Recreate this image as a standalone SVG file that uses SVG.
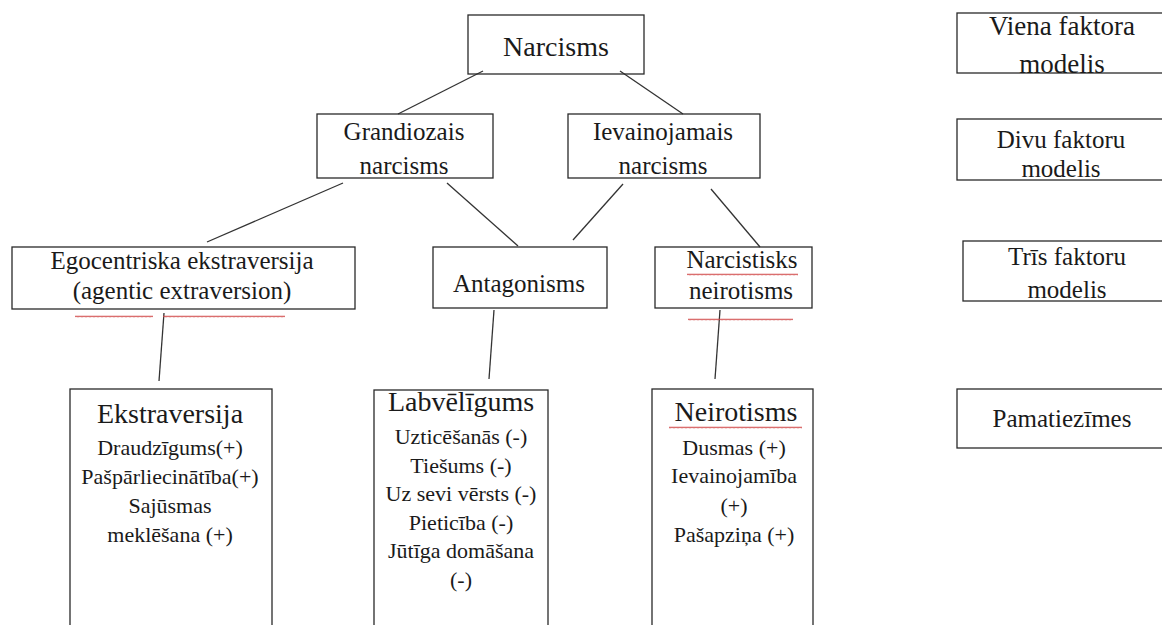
<svg xmlns="http://www.w3.org/2000/svg" width="1162" height="625" viewBox="0 0 1162 625">
<defs>
<style>
.box{fill:none;stroke:#2a2a2a;stroke-width:1.3}
text{font-family:'Liberation Serif','DejaVu Serif','Times New Roman',serif;fill:#1a1a1a;text-anchor:middle}
.s25{font-size:25px}
.s28{font-size:28px}
.s22{font-size:22px}
.s27{font-size:27px}
.con line{stroke:#333;stroke-width:1.3}
</style>
<pattern id="wave" patternUnits="userSpaceOnUse" x="0" y="0" width="4" height="3">
<path d="M0 2.3 L1 0.7 L2 2.3 L3 0.7 L4 2.3" fill="none" stroke="#d04848" stroke-width="0.8"/>
</pattern>
</defs>
<rect width="1162" height="625" fill="#ffffff"/>
<g class="con">
<line x1="483" y1="71" x2="398" y2="114"/>
<line x1="620" y1="71" x2="683" y2="114"/>
<line x1="343" y1="183" x2="207" y2="242"/>
<line x1="447" y1="183" x2="518" y2="246"/>
<line x1="623" y1="184" x2="573" y2="240"/>
<line x1="711" y1="189" x2="760" y2="247"/>
<line x1="164" y1="313" x2="159" y2="381"/>
<line x1="494" y1="310" x2="489" y2="379"/>
<line x1="720" y1="310" x2="715" y2="379"/>
</g>
<g id="narcisms" font-family="Liberation Serif, DejaVu Serif, serif">
<rect class="box" x="468" y="15" width="176" height="59"/>
<text class="s28" x="556" y="56">Narcisms</text>
</g>
<g id="grandiozais" font-family="Liberation Serif, DejaVu Serif, serif">
<rect class="box" x="317" y="114" width="176" height="64"/>
<text class="s25" x="404" y="140">Grandiozais</text>
<text class="s25" x="404" y="174">narcisms</text>
</g>
<g id="ievainojamais" font-family="Liberation Serif, DejaVu Serif, serif">
<rect class="box" x="568" y="114" width="192" height="64"/>
<text class="s25" x="663" y="140">Ievainojamais</text>
<text class="s25" x="663" y="174">narcisms</text>
</g>
<g id="egocentriska" font-family="Liberation Serif, DejaVu Serif, serif">
<rect class="box" x="12" y="247" width="343" height="62"/>
<text class="s25" x="182" y="269">Egocentriska ekstraversija</text>
<text class="s25" x="182" y="299">(agentic extraversion)</text>
<rect x="75" y="315" width="78" height="3" fill="url(#wave)"/>
<rect x="163" y="315" width="122" height="3" fill="url(#wave)"/>
</g>
<g id="antagonisms" font-family="Liberation Serif, DejaVu Serif, serif">
<rect class="box" x="433" y="247" width="174" height="61"/>
<text class="s25" x="519" y="292">Antagonisms</text>
</g>
<g id="narcistisks" font-family="Liberation Serif, DejaVu Serif, serif">
<rect class="box" x="655" y="247" width="157" height="61"/>
<text class="s25" x="742" y="268">Narcistisks</text>
<text class="s25" x="741" y="299">neirotisms</text>
<rect x="687" y="273" width="111" height="3" fill="url(#wave)"/>
<rect x="688" y="318" width="105" height="3" fill="url(#wave)"/>
</g>
<g id="ekstraversija" font-family="Liberation Serif, DejaVu Serif, serif">
<rect class="box" x="70" y="389" width="202" height="260"/>
<text class="s28" x="170" y="423">Ekstraversija</text>
<text class="s22" x="170" y="455">Draudzīgums(+)</text>
<text class="s22" x="170" y="484">Pašpārliecinātība(+)</text>
<text class="s22" x="170" y="513">Sajūsmas</text>
<text class="s22" x="170" y="542">meklēšana (+)</text>
</g>
<g id="labveligums" font-family="Liberation Serif, DejaVu Serif, serif">
<rect class="box" x="374" y="390" width="174" height="260"/>
<text class="s28" x="461" y="411">Labvēlīgums</text>
<text class="s22" x="461" y="444">Uzticēšanās (-)</text>
<text class="s22" x="461" y="473">Tiešums (-)</text>
<text class="s22" x="461" y="501">Uz sevi vērsts (-)</text>
<text class="s22" x="461" y="530">Pieticība (-)</text>
<text class="s22" x="461" y="558">Jūtīga domāšana</text>
<text class="s22" x="461" y="587">(-)</text>
</g>
<g id="neirotisms" font-family="Liberation Serif, DejaVu Serif, serif">
<rect class="box" x="652" y="389" width="161" height="260"/>
<text class="s28" x="736" y="421">Neirotisms</text>
<rect x="669" y="426" width="133" height="3" fill="url(#wave)"/>
<text class="s22" x="734" y="455">Dusmas (+)</text>
<text class="s22" x="734" y="483">Ievainojamība</text>
<text class="s22" x="734" y="513">(+)</text>
<text class="s22" x="734" y="542">Pašapziņa (+)</text>
</g>
<g id="viena" font-family="Liberation Serif, DejaVu Serif, serif">
<rect class="box" x="957" y="13" width="220" height="60"/>
<text class="s27" x="1062" y="35">Viena faktora</text>
<text class="s27" x="1062" y="73">modelis</text>
</g>
<g id="divu" font-family="Liberation Serif, DejaVu Serif, serif">
<rect class="box" x="957" y="119" width="220" height="61"/>
<text class="s25" x="1061" y="148">Divu faktoru</text>
<text class="s25" x="1061" y="177">modelis</text>
</g>
<g id="tris" font-family="Liberation Serif, DejaVu Serif, serif">
<rect class="box" x="963" y="241" width="220" height="60"/>
<text class="s25" x="1067" y="265">Trīs faktoru</text>
<text class="s25" x="1067" y="298">modelis</text>
</g>
<g id="pamatiezimes" font-family="Liberation Serif, DejaVu Serif, serif">
<rect class="box" x="957" y="389" width="220" height="59"/>
<text class="s25" x="1062" y="427">Pamatiezīmes</text>
</g>
</svg>
